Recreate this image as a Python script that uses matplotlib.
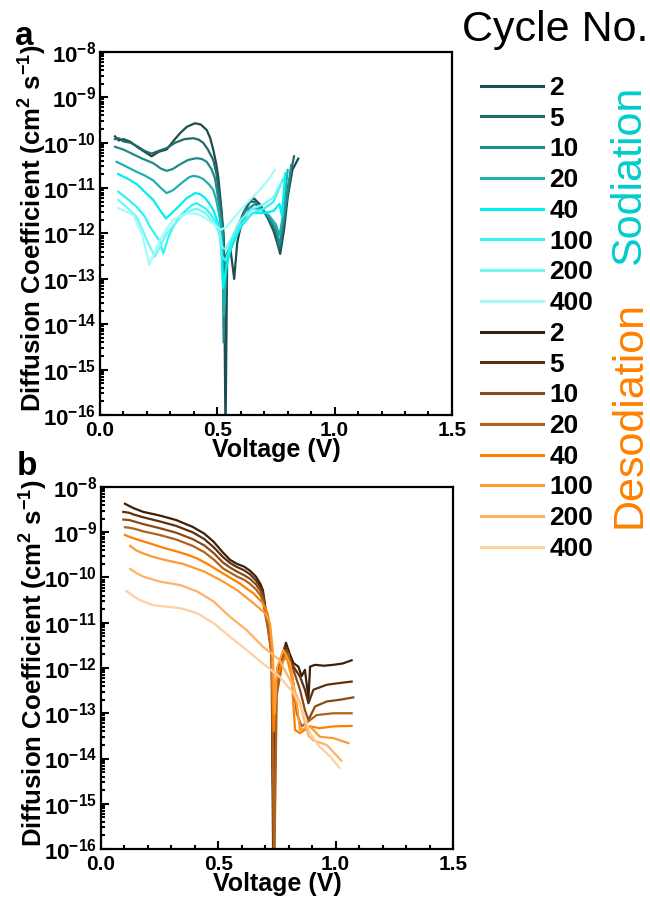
import numpy as np
import matplotlib
matplotlib.use('Agg')
import matplotlib.pyplot as plt
from matplotlib.ticker import LogLocator, NullFormatter, MultipleLocator, FuncFormatter

plt.rcParams['font.family'] = ['Liberation Sans', 'DejaVu Sans']
plt.rcParams['mathtext.fontset'] = 'custom'
plt.rcParams['mathtext.rm'] = 'Liberation Sans:bold'
plt.rcParams['mathtext.bf'] = 'Liberation Sans:bold'
plt.rcParams['mathtext.it'] = 'Liberation Sans:bold'
plt.rcParams['mathtext.default'] = 'bf'

cycles = ['2', '5', '10', '20', '40', '100', '200', '400']
sod_colors = ['#1e4d4d', '#1f6a6a', '#218a8a', '#1fb0b0', '#00f0f0', '#33f3f3', '#70f7f7', '#a3fbfb']
desod_colors = ['#3d1f0a', '#5c300e', '#8a4a14', '#b0621c', '#ff8000', '#ff9933', '#ffb266', '#ffcf9f']

# ---- sodiation: voltage (V) and log10 D (cm^2 s^-1) ----
v_sod_2 = [0.064, 0.08, 0.10, 0.13, 0.16, 0.19, 0.22, 0.25, 0.284, 0.31, 0.341, 0.37, 0.405, 0.43, 0.455,
           0.47, 0.483, 0.495, 0.504, 0.518, 0.528, 0.535, 0.542, 0.555, 0.572, 0.585, 0.61, 0.635, 0.655,
           0.68, 0.71, 0.74, 0.755, 0.768, 0.785, 0.80, 0.82, 0.845]
d_sod_2 = [-9.86, -9.95, -9.92, -9.98, -10.1, -10.2, -10.3, -10.2, -10.15, -9.98, -9.79, -9.65, -9.57, -9.6, -9.72,
           -9.9, -10.16, -10.45, -10.75, -11.48, -12.14, -16.5, -12.5, -12.3, -13.0, -12.2, -11.6, -11.3, -11.22,
           -11.35, -11.6, -11.95, -12.2, -12.45, -11.9, -11.2, -10.6, -10.35]

v_sod_5 = [0.064, 0.08, 0.10, 0.13, 0.16, 0.19, 0.22, 0.25, 0.284, 0.32, 0.36, 0.398, 0.42, 0.44, 0.46,
           0.483, 0.497, 0.509, 0.526, 0.532, 0.545, 0.56, 0.58, 0.61, 0.64, 0.665, 0.69, 0.72, 0.75,
           0.765, 0.78, 0.80, 0.827]
d_sod_5 = [-9.92, -9.90, -9.97, -10.0, -10.08, -10.18, -10.24, -10.18, -10.12, -10.0, -9.92, -9.90, -9.93, -10.0, -10.15,
           -10.38, -10.7, -11.19, -11.99, -13.2, -12.4, -12.3, -12.0, -11.55, -11.3, -11.3, -11.45, -11.7, -12.0,
           -12.35, -11.9, -11.0, -10.3]

v_sod_10 = [0.064, 0.10, 0.14, 0.18, 0.227, 0.26, 0.284, 0.31, 0.34, 0.375, 0.412, 0.435, 0.455, 0.475, 0.49,
            0.50, 0.511, 0.522, 0.527, 0.535, 0.55, 0.58, 0.62, 0.66, 0.69, 0.72, 0.75, 0.765, 0.78, 0.80, 0.815]
d_sod_10 = [-10.09, -10.15, -10.25, -10.35, -10.45, -10.57, -10.62, -10.58, -10.48, -10.38, -10.34, -10.36, -10.42,
            -10.58, -10.78, -11.1, -11.48, -12.0, -14.4, -12.5, -12.35, -11.9, -11.5, -11.35, -11.45, -11.65, -11.9,
            -12.25, -11.8, -11.1, -10.5]

v_sod_20 = [0.071, 0.11, 0.156, 0.19, 0.227, 0.26, 0.284, 0.31, 0.35, 0.38, 0.398, 0.42, 0.44, 0.465, 0.483,
            0.495, 0.505, 0.52, 0.528, 0.54, 0.56, 0.60, 0.64, 0.68, 0.72, 0.75, 0.765, 0.78, 0.80]
d_sod_20 = [-10.42, -10.52, -10.64, -10.72, -10.83, -11.0, -11.11, -11.05, -10.88, -10.76, -10.73, -10.75, -10.80,
            -10.92, -11.04, -11.25, -11.5, -12.0, -13.8, -12.6, -12.3, -11.8, -11.45, -11.45, -11.6, -11.8, -12.05,
            -11.6, -10.6]

v_sod_40 = [0.078, 0.12, 0.156, 0.19, 0.227, 0.255, 0.281, 0.30, 0.334, 0.37, 0.405, 0.425, 0.445, 0.465,
            0.483, 0.495, 0.505, 0.515, 0.525, 0.54, 0.56, 0.60, 0.65, 0.70, 0.74, 0.765, 0.775, 0.79]
d_sod_40 = [-10.69, -10.80, -10.91, -11.08, -11.26, -11.48, -11.67, -11.58, -11.41, -11.22, -11.11, -11.13, -11.2,
            -11.33, -11.48, -11.65, -11.8, -12.1, -13.2, -12.7, -12.3, -11.85, -11.55, -11.55, -11.5, -11.35, -11.6,
            -10.67]

v_sod_100 = [0.078, 0.12, 0.156, 0.19, 0.213, 0.235, 0.256, 0.27, 0.29, 0.312, 0.34, 0.369, 0.39, 0.412,
             0.45, 0.475, 0.497, 0.51, 0.52, 0.535, 0.56, 0.60, 0.65, 0.70, 0.74, 0.76, 0.78]
d_sod_100 = [-11.08, -11.25, -11.41, -11.62, -11.85, -12.02, -12.18, -12.44, -12.1, -11.85, -11.62, -11.48, -11.38,
             -11.33, -11.45, -11.6, -11.78, -12.05, -12.5, -12.6, -12.2, -11.8, -11.55, -11.45, -11.3, -11.05, -10.8]

v_sod_200 = [0.078, 0.12, 0.156, 0.18, 0.206, 0.234, 0.26, 0.284, 0.32, 0.355, 0.385, 0.412, 0.45, 0.49,
             0.51, 0.52, 0.535, 0.56, 0.60, 0.65, 0.70, 0.74, 0.77]
d_sod_200 = [-11.26, -11.45, -11.63, -11.90, -12.22, -12.51, -12.25, -12.0, -11.78, -11.59, -11.5, -11.45, -11.55,
             -11.8, -12.0, -12.3, -12.35, -12.1, -11.7, -11.45, -11.35, -11.2, -10.9]

v_sod_400 = [0.078, 0.142, 0.178, 0.195, 0.21, 0.23, 0.256, 0.284, 0.312, 0.34, 0.369, 0.40, 0.426, 0.455,
             0.483, 0.515, 0.54, 0.58, 0.626, 0.68, 0.72, 0.745]
d_sod_400 = [-11.44, -11.59, -12.0, -12.35, -12.69, -12.45, -12.14, -11.90, -11.70, -11.62, -11.56, -11.56, -11.59,
             -11.68, -11.78, -11.92, -11.85, -11.6, -11.33, -11.05, -10.8, -10.6]

# ---- desodiation ----
v_des_2 = [0.102, 0.12, 0.14, 0.18, 0.25, 0.32, 0.39, 0.44, 0.48, 0.52, 0.55, 0.58, 0.61, 0.635, 0.66, 0.68,
           0.69, 0.70, 0.71, 0.72, 0.727, 0.734, 0.742, 0.763, 0.788, 0.805, 0.820, 0.841, 0.855, 0.869, 0.884,
           0.891, 0.912, 0.95, 0.990, 1.03, 1.068]
d_des_2 = [-8.37, -8.42, -8.47, -8.55, -8.63, -8.73, -8.88, -9.03, -9.21, -9.45, -9.61, -9.70, -9.76, -9.85,
           -9.98, -10.15, -10.28, -10.65, -10.95, -11.30, -11.74, -16.5, -12.4, -12.0, -11.44, -11.7, -11.89,
           -11.97, -12.18, -12.04, -12.67, -11.97, -11.93, -11.95, -11.93, -11.9, -11.83]

v_des_5 = [0.095, 0.12, 0.14, 0.18, 0.25, 0.32, 0.39, 0.44, 0.48, 0.52, 0.55, 0.58, 0.61, 0.635, 0.66, 0.68,
           0.69, 0.70, 0.71, 0.72, 0.728, 0.736, 0.745, 0.763, 0.784, 0.820, 0.848, 0.869, 0.884, 0.905, 0.962,
           1.02, 1.068]
d_des_5 = [-8.55, -8.57, -8.61, -8.67, -8.76, -8.86, -9.0, -9.15, -9.33, -9.55, -9.68, -9.77, -9.84, -9.93,
           -10.06, -10.22, -10.35, -10.7, -11.0, -11.35, -11.65, -16.5, -12.5, -11.89, -11.53, -11.97, -12.19,
           -12.48, -12.78, -12.48, -12.37, -12.33, -12.30]

v_des_10 = [0.095, 0.12, 0.14, 0.18, 0.25, 0.32, 0.39, 0.44, 0.48, 0.52, 0.55, 0.58, 0.61, 0.635, 0.66, 0.68,
            0.69, 0.70, 0.71, 0.72, 0.728, 0.737, 0.747, 0.770, 0.791, 0.820, 0.848, 0.869, 0.884, 0.912, 0.962,
            1.02, 1.075]
d_des_10 = [-8.72, -8.73, -8.76, -8.82, -8.91, -9.01, -9.15, -9.29, -9.46, -9.67, -9.78, -9.87, -9.95, -10.03,
            -10.15, -10.30, -10.42, -10.75, -11.05, -11.4, -11.75, -16.5, -12.4, -11.75, -11.60, -12.04, -12.48,
            -12.93, -13.15, -12.85, -12.74, -12.7, -12.65]

v_des_20 = [0.102, 0.12, 0.14, 0.18, 0.25, 0.32, 0.39, 0.44, 0.48, 0.52, 0.55, 0.58, 0.61, 0.635, 0.66, 0.68,
            0.69, 0.70, 0.71, 0.72, 0.728, 0.738, 0.749, 0.777, 0.798, 0.820, 0.834, 0.855, 0.891, 0.919, 0.990,
            1.068]
d_des_20 = [-8.89, -8.90, -8.92, -8.98, -9.06, -9.16, -9.30, -9.44, -9.60, -9.80, -9.89, -9.98, -10.05, -10.14,
            -10.26, -10.40, -10.52, -10.82, -11.1, -11.45, -11.75, -16.5, -12.6, -11.75, -11.67, -12.34, -13.0,
            -13.29, -13.15, -13.04, -13.00, -13.00]

v_des_40 = [0.102, 0.12, 0.16, 0.21, 0.27, 0.32, 0.37, 0.41, 0.45, 0.52, 0.59, 0.65, 0.69, 0.71, 0.72, 0.728,
            0.736, 0.745, 0.770, 0.791, 0.812, 0.827, 0.848, 0.891, 0.933, 0.990, 1.068]
d_des_40 = [-9.06, -9.10, -9.17, -9.25, -9.35, -9.42, -9.50, -9.58, -9.69, -9.91, -10.13, -10.35, -10.57,
            -10.79, -11.1, -11.6, -13.4, -12.3, -11.89, -11.75, -12.19, -13.37, -13.44, -13.29, -13.33, -13.29,
            -13.28]

v_des_100 = [0.124, 0.15, 0.18, 0.22, 0.27, 0.35, 0.44, 0.51, 0.58, 0.65, 0.70, 0.72, 0.732, 0.740, 0.750,
             0.777, 0.805, 0.834, 0.848, 0.891, 0.933, 0.990, 1.054]
d_des_100 = [-9.30, -9.40, -9.47, -9.54, -9.61, -9.70, -9.87, -10.06, -10.28, -10.57, -10.79, -11.01, -11.6,
             -13.0, -12.0, -11.60, -11.89, -12.78, -13.37, -13.29, -13.52, -13.55, -13.66]

v_des_200 = [0.124, 0.15, 0.18, 0.25, 0.34, 0.41, 0.48, 0.55, 0.62, 0.69, 0.76, 0.805, 0.848, 0.884, 0.905,
             0.962, 1.025]
d_des_200 = [-9.81, -9.90, -9.98, -10.09, -10.17, -10.31, -10.53, -10.87, -11.16, -11.53, -11.82, -12.26, -12.78,
             -13.5, -13.6, -13.7, -14.05]

v_des_400 = [0.109, 0.14, 0.166, 0.22, 0.34, 0.41, 0.48, 0.55, 0.62, 0.69, 0.76, 0.82, 0.86, 0.891, 0.933,
             0.976, 1.015]
d_des_400 = [-10.30, -10.42, -10.50, -10.61, -10.68, -10.79, -11.01, -11.31, -11.60, -11.90, -12.19, -12.55,
             -12.95, -13.45, -13.75, -13.95, -14.2]

sod_v = [v_sod_2, v_sod_5, v_sod_10, v_sod_20, v_sod_40, v_sod_100, v_sod_200, v_sod_400]
sod_d = [d_sod_2, d_sod_5, d_sod_10, d_sod_20, d_sod_40, d_sod_100, d_sod_200, d_sod_400]
des_v = [v_des_2, v_des_5, v_des_10, v_des_20, v_des_40, v_des_100, v_des_200, v_des_400]
des_d = [d_des_2, d_des_5, d_des_10, d_des_20, d_des_40, d_des_100, d_des_200, d_des_400]


def style_axis(ax):
    ax.set_xlim(0, 1.5)
    ax.set_ylim(1e-16, 1e-8)
    ax.set_yscale('log')
    ax.xaxis.set_major_locator(MultipleLocator(0.5))
    ax.xaxis.set_minor_locator(MultipleLocator(0.1))
    ax.xaxis.set_major_formatter(FuncFormatter(lambda x, p: f'{x:.1f}'))
    ax.yaxis.set_major_locator(LogLocator(base=10, numticks=100))
    ax.yaxis.set_minor_locator(LogLocator(base=10, subs=np.arange(2, 10), numticks=100))
    ax.yaxis.set_minor_formatter(NullFormatter())
    ax.yaxis.set_major_formatter(FuncFormatter(lambda y, p: r'$10^{%d}$' % round(np.log10(y))))
    ax.tick_params(which='both', direction='in', top=False, right=False, width=1.5)
    ax.tick_params(which='major', length=6, pad=3)
    ax.tick_params(which='minor', length=3)
    ax.tick_params(axis='x', labelsize=15, pad=4)
    ax.tick_params(axis='y', labelsize=16)
    for lab in ax.get_xticklabels():
        lab.set_fontweight('bold')
    for s in ax.spines.values():
        s.set_linewidth(1.6)
    ax.set_xlabel('Voltage (V)', fontsize=18, fontweight='bold', labelpad=-1)
    ax.set_ylabel(r'Diffusion Coefficient (cm$^{2}$ s$^{-1}$)', fontsize=18.5, fontweight='bold')
    ax.yaxis.set_label_coords(-0.145, 0.515)


fig = plt.figure(figsize=(6.5, 9.01), dpi=100)
ax_a = fig.add_axes([0.1538, 0.5394, 0.5415, 0.4029])
ax_b = fig.add_axes([0.1554, 0.0577, 0.5415, 0.4018])

handles = []
for v, d, c, n in zip(sod_v, sod_d, sod_colors, cycles):
    ln, = ax_a.plot(v, 10 ** np.array(d), color=c, lw=1.6, label=n)
    handles.append(ln)
for v, d, c, n in zip(des_v, des_d, desod_colors, cycles):
    ln, = ax_b.plot(v, 10 ** np.array(d), color=c, lw=1.6, label=n)
    handles.append(ln)

style_axis(ax_a)
style_axis(ax_b)

fig.text(15 / 650, 1 - 45 / 901, 'a', fontsize=24, fontweight='bold', ha='left', va='baseline')
fig.text(17 / 650, 1 - 475 / 901, 'b', fontsize=24, fontweight='bold', ha='left', va='baseline')

fig.text(462 / 650, 1 - 41 / 901, 'Cycle No.', fontsize=31, ha='left', va='baseline')
leg = fig.legend(handles, [h.get_label() for h in handles], loc='upper left',
                 bbox_to_anchor=(481 / 650, 1 - 76 / 901), frameon=False,
                 borderpad=0, borderaxespad=0, handlelength=2.35, handletextpad=0.25,
                 labelspacing=0.255, prop={'weight': 'bold', 'size': 19})
for ln in leg.get_lines():
    ln.set_linewidth(2.2)

fig.text(629 / 650, 1 - 175 / 901, 'Sodiation', fontsize=31, color='#00cccc',
         rotation=90, ha='center', va='center')
fig.text(629 / 650, 1 - 415 / 901, 'Desodiation', fontsize=31, color='#ff8000',
         rotation=90, ha='center', va='center')

fig.savefig('out.png', dpi=100)
